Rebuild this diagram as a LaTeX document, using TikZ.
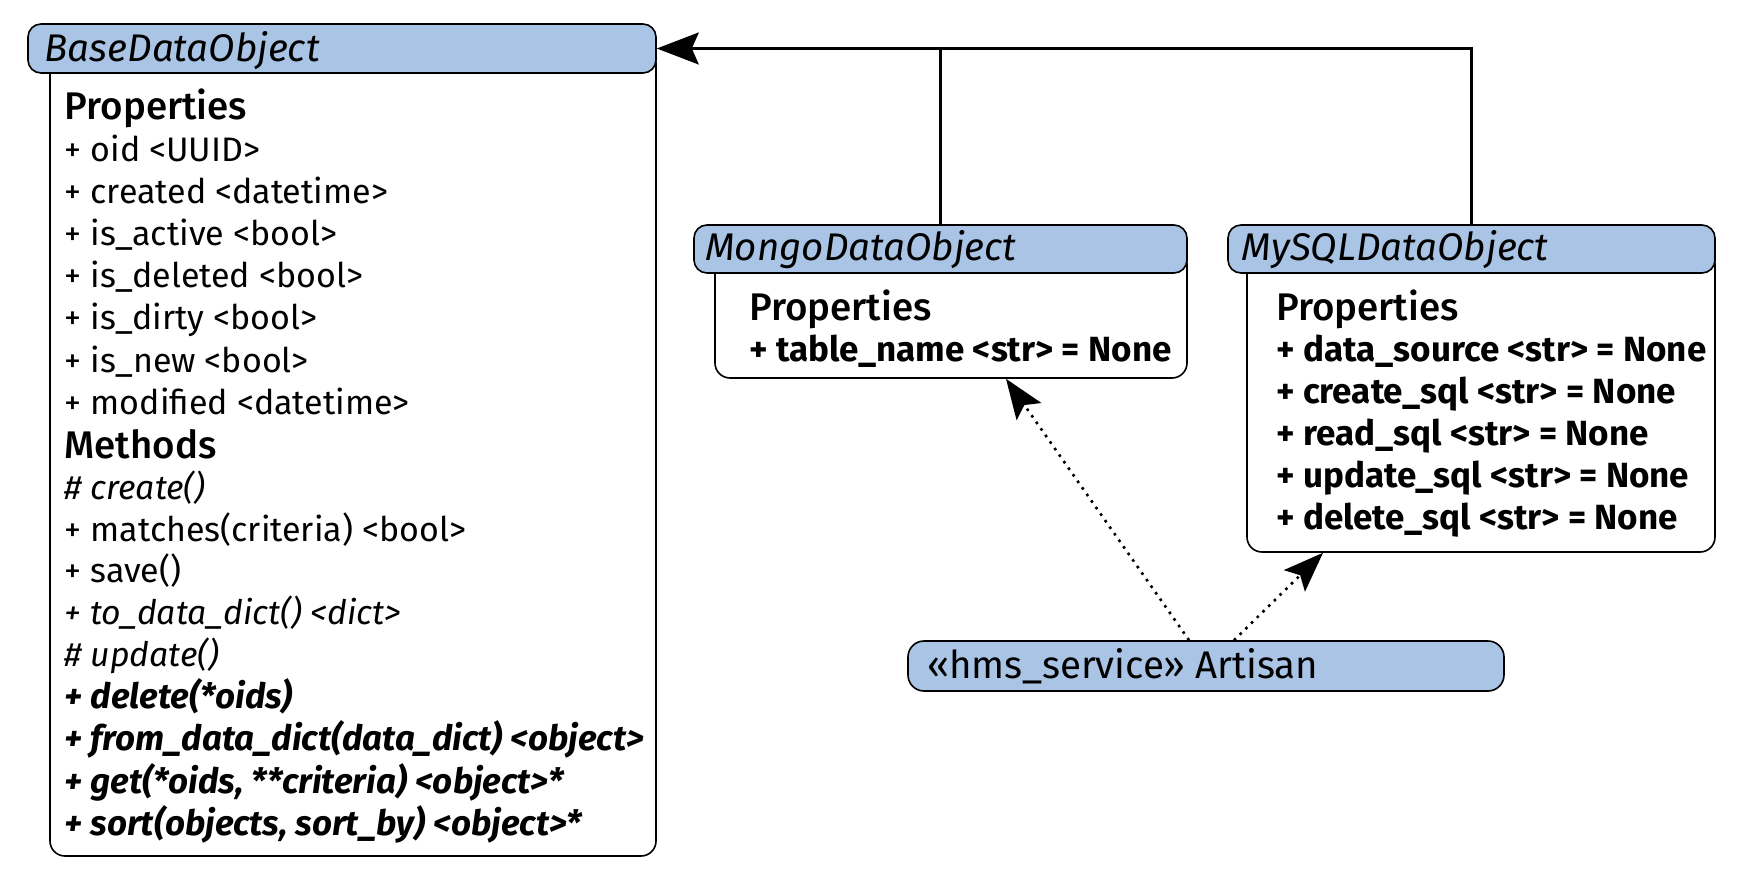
\documentclass[tikz,border=0pt]{standalone}
\usepackage{fontspec}
\setmainfont{Fira Sans}
\newfontfamily\medfont{Fira Sans Medium}
\usetikzlibrary{arrows.meta}
\definecolor{hdr}{HTML}{A9C4E4}
\begin{document}
\begin{tikzpicture}[x=1pt,y=-1pt,
  hdrbox/.style={draw=black, line width=1.6pt, fill=hdr, rounded corners=13pt, inner sep=0pt},
  bodybox/.style={draw=black, line width=1.6pt, fill=white, rounded corners=15pt, inner sep=0pt},
  txt/.style={anchor=base west, inner sep=0pt, font=\fontsize{34}{40}\selectfont},
  btxt/.style={txt, font=\fontsize{35}{40}\selectfont\bfseries},
  itxt/.style={txt, font=\fontsize{33.8}{40}\selectfont\itshape},
  bitxt/.style={txt, font=\fontsize{34.9}{40}\selectfont\bfseries\itshape},
  headtxt/.style={anchor=base west, inner sep=0pt, font=\fontsize{38.5}{44}\selectfont\medfont},
  titletxt/.style={anchor=base west, inner sep=0pt, font=\fontsize{38.5}{44}\selectfont\itshape},
  conn/.style={draw=black, line width=2.6pt},
  dep/.style={draw=black, line width=2.6pt, dash pattern=on 2.6pt off 5.4pt,
    -{Stealth[length=40pt, width=30pt, inset=8pt]}},
]
\useasboundingbox (0,0) rectangle (1743,880);

% BaseDataObject
\node[bodybox, minimum width=606pt, minimum height=808pt] (baseb) at (353,452) {};
\node[hdrbox, minimum width=628pt, minimum height=49pt] (baseh) at (342,48.5) {};
\node[titletxt] (baset) at (44.5,62) {BaseDataObject};
\node[headtxt] (bp) at (64.5,120) {Properties};
\node[txt] (b1) at (64.5,161.5) {+ oid <UUID>};
\node[txt] (b2) at (64.5,203.6) {+ created <datetime>};
\node[txt] (b3) at (64.5,245.7) {+ is\_active <bool>};
\node[txt] (b4) at (64.5,287.8) {+ is\_deleted <bool>};
\node[txt] (b5) at (64.5,329.9) {+ is\_dirty <bool>};
\node[txt] (b6) at (64.5,372.0) {+ is\_new <bool>};
\node[txt] (b7) at (64.5,414.1) {+ modified <datetime>};
\node[headtxt] (bm) at (64.5,458) {Methods};
\node[itxt] (m1) at (64.5,499.5) {\# create()};
\node[txt] (m2) at (64.5,541.0) {+ matches(criteria) <bool>};
\node[txt] (m3) at (64.5,582.5) {+ save()};
\node[itxt] (m4) at (64.5,624.6) {+ to\_data\_dict() <dict>};
\node[itxt] (m5) at (64.5,666.7) {\# update()};
\node[bitxt] (m6) at (64.5,708.8) {+ delete(*oids)};
\node[bitxt] (m7) at (64.5,750.9) {+ from\_data\_dict(data\_dict) <object>};
\node[bitxt] (m8) at (64.5,793.0) {+ get(*oids, **criteria) <object>*};
\node[bitxt] (m9) at (64.5,835.1) {+ sort(objects, sort\_by) <object>*};

% MongoDataObject
\node[bodybox, minimum width=472pt, minimum height=129pt] (mongob) at (951,313.5) {};
\node[hdrbox, minimum width=493pt, minimum height=48pt] (mongoh) at (940.5,249) {};
\node[titletxt] (mongot) at (705,260) {MongoDataObject};
\node[headtxt] (mp) at (749,320) {Properties};
\node[btxt] (mp1) at (749,361.5) {+ table\_name <str> = None};

% MySQLDataObject
\node[bodybox, minimum width=468pt, minimum height=303pt] (sqlb) at (1481,400.5) {};
\node[hdrbox, minimum width=487pt, minimum height=48pt] (sqlh) at (1471.5,249) {};
\node[titletxt] (sqlt) at (1241.6,260) {MySQLDataObject};
\node[headtxt] (sp) at (1276,320) {Properties};
\node[btxt] (s1) at (1276,361.5) {+ data\_source <str> = None};
\node[btxt] (s2) at (1276,403.5) {+ create\_sql <str> = None};
\node[btxt] (s3) at (1276,445.5) {+ read\_sql <str> = None};
\node[btxt] (s4) at (1276,487.5) {+ update\_sql <str> = None};
\node[btxt] (s5) at (1276,529.5) {+ delete\_sql <str> = None};

% Artisan
\node[hdrbox, minimum width=596pt, minimum height=50pt, rounded corners=16pt] (art) at (1206,666) {};
\node[anchor=base west, inner sep=0pt, font=\fontsize{38.5}{44}\selectfont] (artt) at (927,678) {«hms\_service» Artisan};

% inheritance
\draw[conn] (mongoh.north) -- (mongoh.north |- baseh.east);
\draw[conn, -{Stealth[length=42pt, width=32pt, inset=7pt]}] (sqlh.north) |- (baseh.east);

% dependencies
\draw[dep] ([xshift=-17pt]art.north) -- ([xshift=55pt]mongob.south);
\draw[dep] ([xshift=28pt]art.north) -- ([xshift=-158pt]sqlb.south);
\end{tikzpicture}
\end{document}
